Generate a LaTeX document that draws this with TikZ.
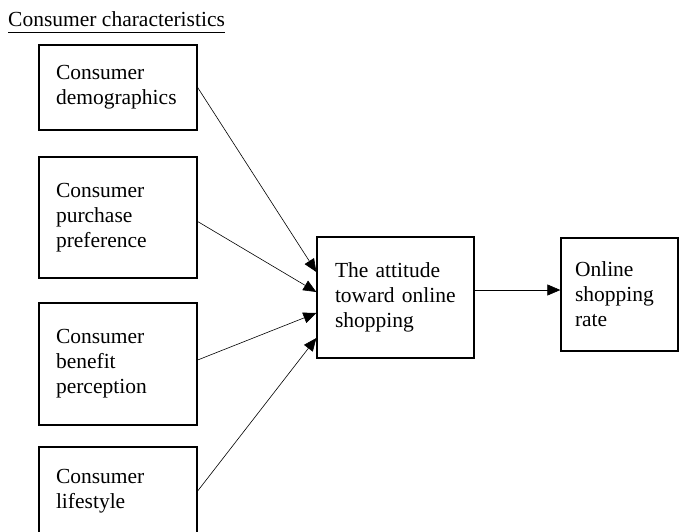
\documentclass[tikz,border=0pt]{standalone}
\usepackage{fontspec}
\setmainfont{Liberation Serif}
\usetikzlibrary{arrows.meta}
\tikzset{
	factor/.style={draw, line width=1.3pt, align=left, inner xsep=17pt, inner ysep=0pt, font=\fontsize{21.5}{25}\selectfont},
	link/.style={line width=0.6pt, -{Triangle[length=13pt,width=11pt]}}
}
\begin{document}
\begin{tikzpicture}[x=1pt,y=-1pt]
		%\draw [help lines] (0,0) grid[step=20] (680,531);
		\clip (0,0) rectangle (680,531);
		\node[anchor=base west, inner sep=0pt, font=\fontsize{21.5}{25}\selectfont] (title) at (8,26) {Consumer characteristics};
		\draw[line width=0.8pt] ([yshift=-6pt]title.base west) -- ([yshift=-6pt]title.base east);

		\node[factor, text width=124pt, minimum height=85pt] (demo) at (118,87.5) {Consumer\\demographics};
		\node[factor, text width=124pt, minimum height=121pt] (pref) at (118,217.5) {Consumer\\purchase\\preference};
		\node[factor, text width=124pt, minimum height=122pt] (bene) at (118,364) {Consumer\\benefit\\perception};
		\node[factor, text width=124pt, minimum height=88pt] (life) at (118,491) {Consumer\\lifestyle};

		\node[factor, text width=121pt, inner xsep=18pt, minimum height=121pt] (attitude) at (395.5,297.5) {The attitude\\toward online\\shopping};
		\node[factor, text width=89pt, inner xsep=14pt, minimum height=113pt] (rate) at (619.5,294.5) {Online\\shopping\\rate};

		\draw[link] (demo.east) -- ([yshift=25.5pt]attitude.west);
		\draw[link] ([yshift=-4pt]pref.east) -- ([yshift=5.5pt]attitude.west);
		\draw[link] ([yshift=4pt]bene.east) -- ([yshift=-15.5pt]attitude.west);
		\draw[link] (life.east) -- ([yshift=-40.5pt]attitude.west);
		\draw[link] ([yshift=7.5pt]attitude.east) -- ([yshift=7.5pt]attitude.east -| rate.west);
\end{tikzpicture}
\end{document}
